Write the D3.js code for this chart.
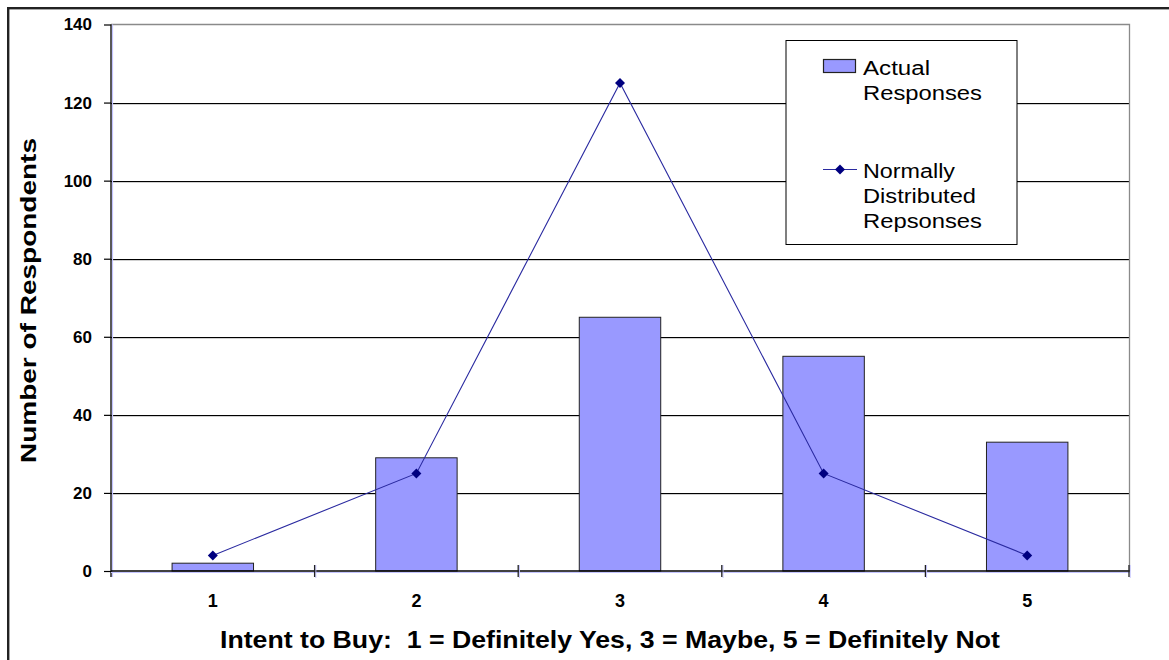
<!DOCTYPE html>
<html>
<head>
<meta charset="utf-8">
<script src="https://cdn.jsdelivr.net/npm/d3@7"></script>
<style>
  html, body { margin: 0; padding: 0; background: #fff; }
  svg { display: block; font-family: "Liberation Sans", Arial, sans-serif; }
</style>
</head>
<body>
<svg id="chart" width="1169" height="660"></svg>
<script>
const categories = ["1", "2", "3", "4", "5"];
const actualResponses = [2, 29, 65, 55, 33];
const normalResponses = [4, 25, 125, 25, 4];
const yTickValues = [0, 20, 40, 60, 80, 100, 120, 140];
const seriesNames = ["Actual Responses", "Normally Distributed Repsonses"];
const xTitle = "Intent to Buy:  1 = Definitely Yes, 3 = Maybe, 5 = Definitely Not";
const yTitle = "Number of Respondents";

const svg = d3.select("#chart");
const W = 1169, H = 660;
const plot = { left: 111, right: 1129, top: 24.5, bottom: 571 };

svg.append("rect").attr("x", 0).attr("y", 0).attr("width", W).attr("height", H).attr("fill", "#fff");
// outer frame (right/bottom cropped)
svg.append("rect").attr("x", 8.2).attr("y", 8.2).attr("width", 1300).attr("height", 800)
  .attr("fill", "none").attr("stroke", "#222").attr("stroke-width", 2.4);

const x = d3.scaleBand().domain(categories).range([plot.left, plot.right])
  .paddingInner(0.6).paddingOuter(0.3);
const y = d3.scaleLinear().domain([0, 140]).range([plot.bottom, plot.top]);
const step = x.step();
const cx = c => x(c) + x.bandwidth() / 2;

// gridlines
const grid = svg.append("g");
yTickValues.filter(v => v > 0 && v < 140).forEach(v => {
  grid.append("line").attr("x1", plot.left).attr("x2", plot.right)
    .attr("y1", Math.round(y(v)) + 1.5).attr("y2", Math.round(y(v)) + 1.5)
    .attr("stroke", "#d0d0d0").attr("stroke-width", 1);
  grid.append("line").attr("x1", plot.left).attr("x2", plot.right)
    .attr("y1", Math.round(y(v)) + 0.5).attr("y2", Math.round(y(v)) + 0.5)
    .attr("stroke", "#000").attr("stroke-width", 1);
});
// plot area border top/right (gray)
svg.append("path")
  .attr("d", `M${plot.left},${y(140)}H${plot.right + 0.5}V${plot.bottom}`)
  .attr("fill", "none").attr("stroke", "#8a8a8a").attr("stroke-width", 1.3);

// bars
svg.append("g").selectAll("rect").data(categories).join("rect")
  .attr("x", d => x(d)).attr("width", x.bandwidth())
  .attr("y", (d, i) => y(actualResponses[i]))
  .attr("height", (d, i) => y(0) - y(actualResponses[i]))
  .attr("fill", "#9999ff").attr("stroke", "#222").attr("stroke-width", 1);

// y axis
const yAxis = svg.append("g").attr("transform", `translate(${plot.left},0)`)
  .call(d3.axisLeft(y).tickValues(yTickValues).tickSize(7).tickPadding(12).tickSizeOuter(0));
yAxis.select(".domain").remove();
yAxis.selectAll(".tick line").attr("stroke", "#000").attr("stroke-width", 1.2);
yAxis.selectAll(".tick text").attr("font-size", 17).attr("font-weight", "bold")
  .attr("fill", "#000").attr("font-family", "Liberation Sans, Arial, sans-serif");
svg.append("line").attr("x1", plot.left + 1.5).attr("x2", plot.left + 1.5)
  .attr("y1", plot.top).attr("y2", 577).attr("stroke", "#c4c4ff").attr("stroke-width", 1.2);
svg.append("line").attr("x1", plot.left).attr("x2", plot.left)
  .attr("y1", plot.top).attr("y2", 577).attr("stroke", "#000").attr("stroke-width", 1.3);

// x axis
svg.append("line").attr("x1", plot.left).attr("x2", plot.right + 1)
  .attr("y1", plot.bottom + 1.5).attr("y2", plot.bottom + 1.5).attr("stroke", "#c4c4ff").attr("stroke-width", 1);
svg.append("line").attr("x1", plot.left).attr("x2", plot.right + 1)
  .attr("y1", plot.bottom).attr("y2", plot.bottom).attr("stroke", "#000").attr("stroke-width", 1.3);
const boundaries = categories.map(c => cx(c) - step / 2).concat([cx(categories[categories.length - 1]) + step / 2]);
boundaries.slice(1).forEach(b => {
  svg.append("line").attr("x1", b + 1.2).attr("x2", b + 1.2).attr("y1", plot.bottom - 6).attr("y2", plot.bottom + 7)
    .attr("stroke", "#c4c4ff").attr("stroke-width", 1);
  svg.append("line").attr("x1", b).attr("x2", b).attr("y1", plot.bottom - 6).attr("y2", plot.bottom + 6)
    .attr("stroke", "#222").attr("stroke-width", 1.3);
});
const xAxis = svg.append("g").attr("transform", `translate(0,${plot.bottom})`)
  .call(d3.axisBottom(x).tickSize(0).tickPadding(23));
xAxis.select(".domain").remove();
xAxis.selectAll(".tick text").attr("font-size", 18).attr("font-weight", "bold")
  .attr("fill", "#000").attr("font-family", "Liberation Sans, Arial, sans-serif");

// line series
const line = d3.line().x((d, i) => cx(categories[i])).y(d => y(d));
svg.append("path").datum(normalResponses).attr("d", line)
  .attr("fill", "none").attr("stroke", "#2a2aa0").attr("stroke-width", 1.1);
const diamond = "M0,-5L5,0L0,5L-5,0Z";
svg.append("g").selectAll("path").data(normalResponses).join("path")
  .attr("transform", (d, i) => `translate(${cx(categories[i])},${y(d)})`)
  .attr("d", diamond).attr("fill", "#000080");

// titles
svg.append("text").attr("x", 220).attr("y", 648)
  .attr("font-size", 24).attr("font-weight", "bold").attr("fill", "#000")
  .attr("textLength", 780).attr("lengthAdjust", "spacingAndGlyphs")
  .style("white-space", "pre").text(xTitle);
svg.append("text").attr("transform", "translate(36,300.5) rotate(-90)")
  .attr("text-anchor", "middle").attr("font-size", 22).attr("font-weight", "bold").attr("fill", "#000")
  .attr("textLength", 325).attr("lengthAdjust", "spacingAndGlyphs")
  .text(yTitle);

// legend
const lg = svg.append("g");
lg.append("rect").attr("x", 786).attr("y", 40.5).attr("width", 231).attr("height", 204)
  .attr("fill", "#fff").attr("stroke", "#000").attr("stroke-width", 1);
lg.append("rect").attr("x", 823.5).attr("y", 59.5).attr("width", 32).attr("height", 13)
  .attr("fill", "#9999ff").attr("stroke", "#222").attr("stroke-width", 1.2);
lg.append("line").attr("x1", 823).attr("x2", 857).attr("y1", 169.5).attr("y2", 169.5)
  .attr("stroke", "#2a2aa0").attr("stroke-width", 1.1);
lg.append("path").attr("transform", "translate(840,169.5)").attr("d", diamond).attr("fill", "#000080");
const legendLines = [
  { t: "Actual", y: 75, w: 67 },
  { t: "Responses", y: 100, w: 119 },
  { t: "Normally", y: 178, w: 92 },
  { t: "Distributed", y: 203, w: 113 },
  { t: "Repsonses", y: 228, w: 119 }
];
lg.selectAll("text").data(legendLines).join("text")
  .attr("x", 863).attr("y", d => d.y).attr("font-size", 20).attr("fill", "#000")
  .attr("textLength", d => d.w).attr("lengthAdjust", "spacingAndGlyphs")
  .text(d => d.t);
</script>
</body>
</html>
